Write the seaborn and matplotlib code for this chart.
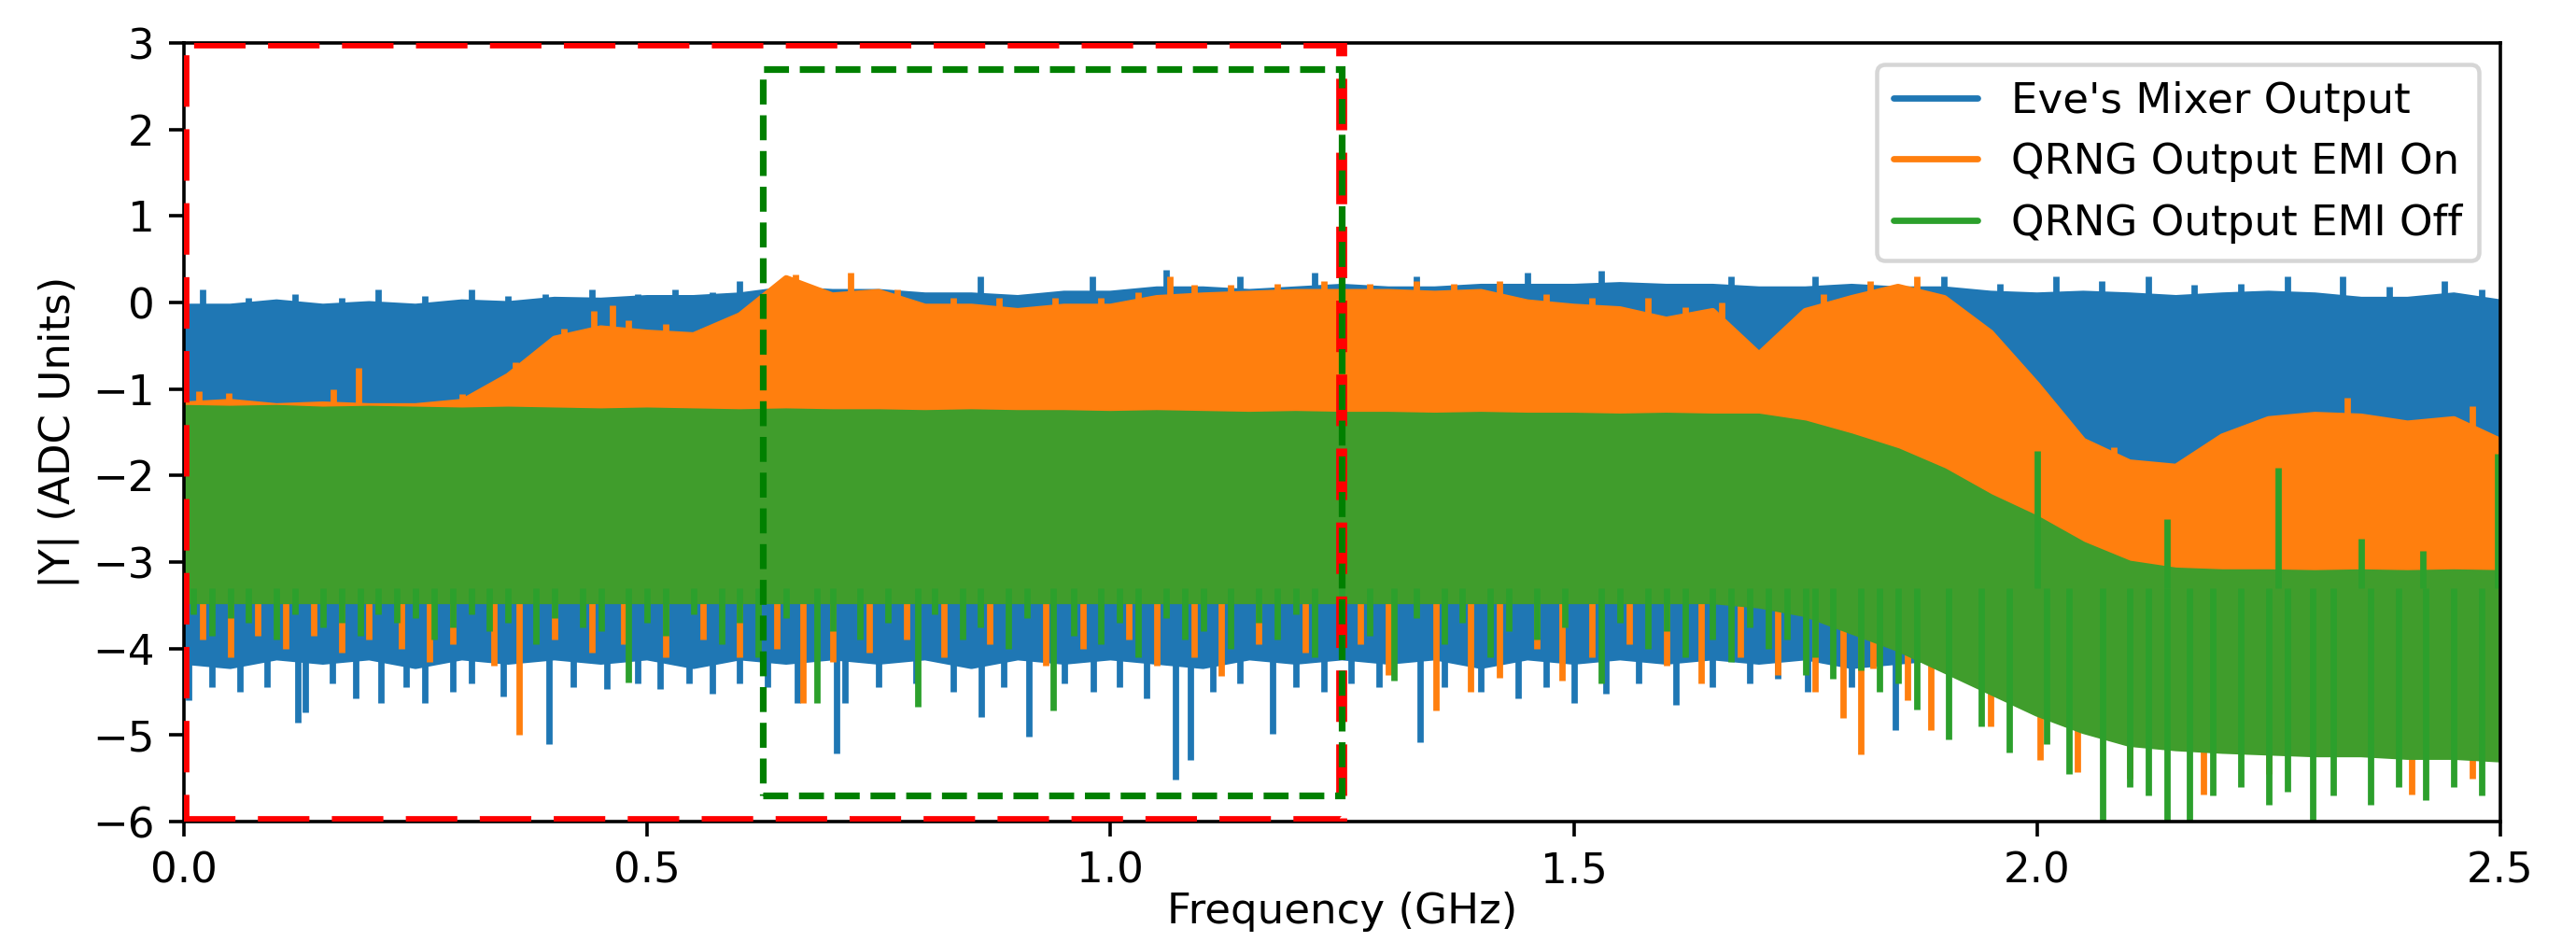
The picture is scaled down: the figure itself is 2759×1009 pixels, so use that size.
import numpy as np
import matplotlib
matplotlib.use("Agg")
import matplotlib.pyplot as plt
from matplotlib.patches import Rectangle
import seaborn as sns

# ---- spectrum envelopes, sampled every 0.05 GHz from 0 to 2.5 GHz ----
freq_ghz = np.round(np.arange(51) * 0.05, 3)

eve_upper = [-0.05, -0.05, 0.00, -0.05, -0.02, -0.05, 0.00, -0.02, 0.03, 0.02,
             0.05, 0.05, 0.08, 0.15, 0.12, 0.12, 0.08, 0.08, 0.05, 0.10,
             0.10, 0.15, 0.15, 0.12, 0.15, 0.18, 0.15, 0.15, 0.18, 0.18,
             0.18, 0.20, 0.18, 0.18, 0.15, 0.15, 0.18, 0.15, 0.15, 0.10,
             0.08, 0.10, 0.08, 0.05, 0.08, 0.10, 0.08, 0.03, 0.03, 0.08, 0.00]
eve_lower = [-4.15, -4.20, -4.10, -4.15, -4.10, -4.20, -4.10, -4.15, -4.10, -4.15,
             -4.10, -4.20, -4.10, -4.15, -4.10, -4.15, -4.10, -4.20, -4.10, -4.15,
             -4.10, -4.15, -4.20, -4.10, -4.15, -4.10, -4.15, -4.10, -4.20, -4.10,
             -4.15, -4.10, -4.15, -4.10, -4.15, -4.10, -4.20, -4.15, -4.10, -4.10,
             -4.00, -4.00, -4.00, -4.00, -4.00, -4.00, -4.00, -4.00, -4.00, -4.00, -4.00]

emi_on_upper = [-1.18, -1.15, -1.20, -1.18, -1.20, -1.20, -1.15, -0.85, -0.42, -0.30,
                -0.35, -0.38, -0.15, 0.28, 0.08, 0.12, -0.05, -0.05, -0.10, -0.05,
                -0.05, 0.05, 0.08, 0.10, 0.12, 0.12, 0.12, 0.10, 0.12, 0.00,
                -0.05, -0.08, -0.20, -0.10, -0.60, -0.10, 0.05, 0.18, 0.05, -0.35,
                -0.95, -1.60, -1.85, -1.90, -1.55, -1.35, -1.30, -1.32, -1.40, -1.35, -1.60]
emi_on_lower = [-3.40] * 34 + [-3.45, -3.55, -3.70, -3.90, -4.15, -4.40, -4.65, -4.85,
                               -5.00, -5.05, -5.08, -5.10, -5.12, -5.12, -5.15, -5.15, -5.18]

emi_off_upper = [-1.22, -1.23, -1.22, -1.24, -1.23, -1.24, -1.25, -1.24, -1.25, -1.26,
                 -1.25, -1.26, -1.27, -1.26, -1.27, -1.27, -1.28, -1.27, -1.28, -1.28,
                 -1.29, -1.28, -1.29, -1.30, -1.29, -1.30, -1.30, -1.31, -1.30, -1.31,
                 -1.31, -1.32, -1.31, -1.32, -1.32, -1.40, -1.55, -1.72, -1.95, -2.25,
                 -2.50, -2.80, -3.02, -3.10, -3.12, -3.12, -3.13, -3.12, -3.13, -3.12, -3.13]
emi_off_lower = [-3.45] * 34 + [-3.50, -3.60, -3.80, -4.00, -4.25, -4.50, -4.75, -4.95,
                                -5.10, -5.15, -5.18, -5.20, -5.22, -5.22, -5.25, -5.25, -5.28]

# ---- isolated excursions beyond the envelopes (frequency, level) ----
eve_dips_f = [0.005, 0.03, 0.06, 0.09, 0.123, 0.131, 0.16, 0.185, 0.213, 0.24,
              0.26, 0.29, 0.31, 0.345, 0.394, 0.42, 0.457, 0.49, 0.514, 0.545,
              0.57, 0.60, 0.63, 0.662, 0.704, 0.713, 0.75, 0.79, 0.83, 0.861,
              0.885, 0.912, 0.95, 0.982, 1.01, 1.039, 1.07, 1.086, 1.11, 1.14,
              1.175, 1.20, 1.23, 1.26, 1.29, 1.334, 1.36, 1.40, 1.44, 1.47,
              1.50, 1.535, 1.57, 1.61, 1.65, 1.69, 1.72, 1.752, 1.80, 1.847]
eve_dips_v = [-4.60, -4.45, -4.50, -4.45, -4.86, -4.74, -4.40, -4.58, -4.63, -4.45,
              -4.63, -4.50, -4.40, -4.55, -5.10, -4.45, -4.47, -4.40, -4.47, -4.40,
              -4.52, -4.40, -4.45, -4.63, -5.21, -4.63, -4.45, -4.40, -4.50, -4.79,
              -4.45, -5.02, -4.40, -4.50, -4.45, -4.58, -5.51, -5.29, -4.50, -4.40,
              -4.99, -4.45, -4.50, -4.40, -4.45, -5.08, -4.45, -4.50, -4.58, -4.45,
              -4.63, -4.52, -4.40, -4.65, -4.45, -4.40, -4.35, -4.50, -4.45, -4.94]
eve_peaks_f = [0.02, 0.07, 0.12, 0.17, 0.21, 0.26, 0.31, 0.35, 0.39, 0.44,
               0.49, 0.53, 0.57, 0.60, 0.86, 0.98, 1.06, 1.14, 1.22, 1.33,
               1.45, 1.53, 1.67, 1.76, 1.90, 1.96, 2.02, 2.07, 2.12, 2.17,
               2.22, 2.27, 2.33, 2.38, 2.44, 2.48]
eve_peaks_v = [0.15, 0.05, 0.10, 0.05, 0.15, 0.08, 0.15, 0.08, 0.10, 0.15,
               0.10, 0.15, 0.12, 0.25, 0.30, 0.30, 0.38, 0.30, 0.35, 0.30,
               0.35, 0.37, 0.30, 0.30, 0.30, 0.22, 0.30, 0.25, 0.30, 0.20,
               0.22, 0.30, 0.30, 0.18, 0.25, 0.15]

emi_on_dips_f = [0.02, 0.05, 0.08, 0.11, 0.14, 0.17, 0.20, 0.235, 0.265, 0.29,
                 0.335, 0.362, 0.40, 0.44, 0.475, 0.52, 0.56, 0.60, 0.64, 0.668,
                 0.70, 0.74, 0.78, 0.82, 0.87, 0.93, 0.97, 1.02, 1.05, 1.09,
                 1.12, 1.16, 1.21, 1.27, 1.30, 1.351, 1.389, 1.42, 1.46, 1.487,
                 1.52, 1.56, 1.60, 1.638, 1.68, 1.72, 1.76, 1.791, 1.81, 1.823,
                 1.86, 1.885, 1.95, 2.003, 2.044, 2.10, 2.18, 2.25, 2.404, 2.47]
emi_on_dips_v = [-3.90, -4.10, -3.85, -4.00, -3.85, -4.05, -3.90, -4.00, -4.15, -3.95,
                 -4.20, -5.00, -3.90, -4.05, -3.95, -4.10, -3.90, -4.10, -4.00, -4.63,
                 -4.15, -4.05, -3.90, -4.10, -3.95, -4.20, -4.00, -3.90, -4.20, -4.10,
                 -4.32, -3.95, -4.05, -3.95, -4.30, -4.72, -4.50, -4.34, -4.00, -4.37,
                 -4.10, -3.95, -4.20, -4.40, -4.10, -4.30, -4.50, -4.80, -5.22, -4.23,
                 -4.60, -4.94, -4.90, -5.29, -5.43, -5.50, -5.69, -5.45, -5.69, -5.50]
emi_on_peaks_f = [0.016, 0.048, 0.161, 0.188, 0.30, 0.358, 0.41, 0.442, 0.463, 0.48,
                  0.52, 0.56, 0.66, 0.69, 0.72, 0.77, 0.83, 0.88, 0.94, 0.99,
                  1.03, 1.064, 1.09, 1.13, 1.18, 1.23, 1.28, 1.33, 1.37, 1.42,
                  1.47, 1.52, 1.58, 1.62, 1.66, 1.77, 1.82, 1.87, 2.083, 2.335, 2.47]
emi_on_peaks_v = [-1.03, -1.05, -1.00, -0.76, -1.06, -0.69, -0.30, -0.10, -0.03, -0.20,
                  -0.25, -0.30, 0.32, 0.10, 0.35, 0.15, 0.05, 0.05, 0.05, 0.05,
                  0.12, 0.30, 0.20, 0.20, 0.22, 0.25, 0.22, 0.25, 0.22, 0.25,
                  0.10, 0.05, 0.05, -0.05, 0.00, 0.10, 0.25, 0.30, -1.67, -1.10, -1.20]

emi_off_dips_f = [0.01, 0.03, 0.05, 0.07, 0.10, 0.12, 0.15, 0.17, 0.19, 0.21,
                  0.23, 0.25, 0.27, 0.29, 0.31, 0.33, 0.35, 0.38, 0.40, 0.43,
                  0.45, 0.48, 0.50, 0.52, 0.55, 0.58, 0.60, 0.62, 0.65, 0.683,
                  0.70, 0.73, 0.76, 0.792, 0.81, 0.84, 0.86, 0.89, 0.91, 0.938,
                  0.96, 0.99, 1.01, 1.03, 1.06, 1.08, 1.10, 1.13, 1.16, 1.18,
                  1.20, 1.22, 1.25, 1.28, 1.306, 1.33, 1.36, 1.38, 1.41, 1.43,
                  1.46, 1.49, 1.53, 1.55, 1.58, 1.60, 1.62, 1.65, 1.67, 1.69,
                  1.71, 1.73, 1.75, 1.76, 1.78, 1.81, 1.83, 1.85, 1.87, 1.905,
                  1.94, 1.97, 2.01, 2.035, 2.071, 2.10, 2.12, 2.14, 2.165, 2.19,
                  2.22, 2.25, 2.27, 2.298, 2.32, 2.36, 2.39, 2.42, 2.45, 2.48]
emi_off_dips_v = [-3.60, -3.85, -3.65, -3.70, -3.90, -3.60, -3.75, -3.70, -3.85, -3.60,
                  -3.70, -3.65, -3.90, -3.75, -3.60, -3.80, -3.70, -3.95, -3.65, -3.75,
                  -3.80, -4.39, -3.70, -3.85, -3.60, -3.95, -3.70, -4.10, -3.65, -4.63,
                  -3.80, -3.90, -3.70, -4.67, -3.60, -3.90, -3.75, -4.00, -3.65, -4.72,
                  -3.85, -3.95, -3.70, -4.10, -3.65, -3.90, -3.80, -4.00, -3.70, -3.90,
                  -3.60, -4.10, -3.75, -3.85, -4.37, -3.65, -3.95, -3.70, -4.10, -3.80,
                  -3.90, -3.75, -4.40, -3.70, -4.00, -3.80, -4.10, -3.90, -4.15, -3.75,
                  -4.00, -3.90, -4.30, -4.10, -4.35, -4.25, -4.50, -4.40, -4.70, -5.05,
                  -4.90, -5.20, -5.10, -5.45, -6.00, -5.60, -5.70, -6.00, -6.00, -5.70,
                  -5.60, -5.80, -5.65, -6.00, -5.70, -5.80, -5.60, -5.75, -5.60, -5.70]
emi_off_peaks_f = [2.00, 2.14, 2.26, 2.35, 2.416, 2.497]
emi_off_peaks_v = [-1.72, -2.50, -1.91, -2.73, -2.87, -1.75]

series = [
    ("Eve's Mixer Output", "#1f77b4", "#1f77b4", eve_upper, eve_lower,
     eve_dips_f, eve_dips_v, eve_peaks_f, eve_peaks_v, -2.0),
    ("QRNG Output EMI On", "#ff7f0e", "#ff7f0e", emi_on_upper, emi_on_lower,
     emi_on_dips_f, emi_on_dips_v, emi_on_peaks_f, emi_on_peaks_v, -2.5),
    ("QRNG Output EMI Off", "#2ca02c", "#409d2c", emi_off_upper, emi_off_lower,
     emi_off_dips_f, emi_off_dips_v, emi_off_peaks_f, emi_off_peaks_v, -3.3),
]

sns.set_style("ticks")
plt.rcParams.update({
    "font.family": ["DejaVu Sans"],
    "font.size": 10,
    "axes.edgecolor": "black",
    "axes.labelcolor": "black",
    "text.color": "black",
    "xtick.color": "black",
    "ytick.color": "black",
    "axes.linewidth": 0.8,
    "xtick.major.size": 3.5,
    "ytick.major.size": 3.5,
    "xtick.major.width": 0.8,
    "ytick.major.width": 0.8,
    "xtick.labelsize": 10,
    "ytick.labelsize": 10,
    "axes.labelsize": 10,
    "legend.fontsize": 10,
})

dpi = 325
fig = plt.figure(figsize=(2759 / dpi, 1009 / dpi), dpi=dpi)
ax = fig.add_axes([0.0714, 0.1278, 0.8992, 0.8266])

for k, (name, color, body, upper, lower, df, dv, pf, pv, anchor) in enumerate(series):
    z = 1.0 + 0.1 * k
    ax.fill_between(freq_ghz, lower, upper, color=body, lw=0, zorder=z)
    sns.lineplot(x=freq_ghz, y=upper, color=body, lw=1.5,
                 estimator=None, sort=False, ax=ax, zorder=z)
    sns.lineplot(x=freq_ghz, y=lower, color=body, lw=1.5,
                 estimator=None, sort=False, ax=ax, zorder=z)
    ax.vlines(df, dv, anchor, color=color, lw=1.5, zorder=z)
    ax.vlines(pf, anchor, pv, color=color, lw=1.5, zorder=z)
    # legend entry
    ax.plot([], [], color=color, lw=1.5, label=name)

# highlighted bands
ax.add_patch(Rectangle((0.0, -6.0), 1.25, 9.0, fill=False, edgecolor="red",
                       lw=2.6, ls=(0, (4.7, 2.05)), zorder=3))
ax.add_patch(Rectangle((0.625, -5.7), 0.625, 8.4, fill=False, edgecolor="green",
                       lw=1.6, ls="--", zorder=3.1))

ax.set_xlim(0, 2.5)
ax.set_ylim(-6, 3)
ax.set_xticks([0.0, 0.5, 1.0, 1.5, 2.0, 2.5])
ax.set_yticks(range(-6, 4))
ax.set_xlabel("Frequency (GHz)", labelpad=0)
ax.set_ylabel("|Y| (ADC Units)", labelpad=3)
ax.legend(loc="upper right")

fig.savefig("out.png", dpi=dpi)
